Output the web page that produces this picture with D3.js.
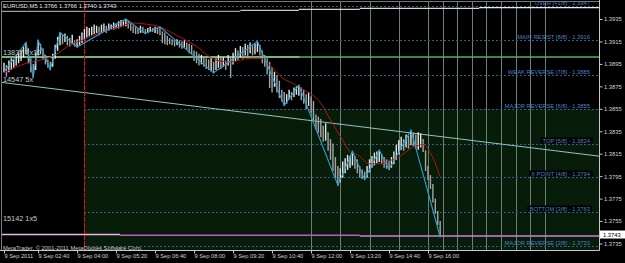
<!DOCTYPE html>
<html>
<head>
<meta charset="utf-8">
<script src="https://cdn.jsdelivr.net/npm/d3@7"></script>
<style>
body { margin: 0; background: #000; }
svg { display: block; }
text { font-family: "Liberation Sans", Arial, sans-serif; }
</style>
</head>
<body>
<div id="chart"></div>
<script>
// EURUSD M5 bars, first bar 9 Sep 2011 01:30
var barHigh = [
    1.3896, 1.3894, 1.3898, 1.3900, 1.3899, 1.3903, 1.3905, 1.3907, 1.3910, 1.3914,
    1.3909, 1.3900, 1.3895, 1.3905, 1.3916, 1.3913, 1.3909, 1.3903, 1.3899, 1.3897,
    1.3904, 1.3912, 1.3919, 1.3923, 1.3921, 1.3922, 1.3920, 1.3918, 1.3921, 1.3916,
    1.3917, 1.3920, 1.3923, 1.3926, 1.3928, 1.3927, 1.3928, 1.3930, 1.3929, 1.3928,
    1.3930, 1.3931, 1.3929, 1.3931, 1.3930, 1.3932, 1.3931, 1.3933, 1.3934, 1.3933,
    1.3935, 1.3933, 1.3931, 1.3929, 1.3928, 1.3927, 1.3929, 1.3928, 1.3926, 1.3927,
    1.3928, 1.3927, 1.3928, 1.3927, 1.3928, 1.3924, 1.3923, 1.3920, 1.3918, 1.3917,
    1.3916, 1.3917, 1.3916, 1.3915, 1.3916, 1.3914, 1.3913, 1.3912, 1.3907, 1.3906,
    1.3904, 1.3903, 1.3901, 1.3900, 1.3899, 1.3901, 1.3897, 1.3900, 1.3903, 1.3902,
    1.3901, 1.3898, 1.3903, 1.3902, 1.3905, 1.3909, 1.3907, 1.3911, 1.3910, 1.3913,
    1.3912, 1.3914, 1.3911, 1.3913, 1.3915, 1.3912, 1.3907, 1.3903, 1.3900, 1.3897,
    1.3892, 1.3888, 1.3885, 1.3880, 1.3872, 1.3870, 1.3868, 1.3872, 1.3870, 1.3874,
    1.3875, 1.3876, 1.3874, 1.3872, 1.3868, 1.3870, 1.3866, 1.3862, 1.3850, 1.3848,
    1.3846, 1.3840, 1.3842, 1.3834, 1.3828, 1.3824, 1.3812, 1.3804, 1.3802, 1.3808,
    1.3811, 1.3814, 1.3813, 1.3817, 1.3813, 1.3810, 1.3804, 1.3801, 1.3799, 1.3804,
    1.3810, 1.3813, 1.3816, 1.3817, 1.3818, 1.3815, 1.3812, 1.3810, 1.3809, 1.3812,
    1.3817, 1.3823, 1.3827, 1.3830, 1.3828, 1.3832, 1.3831, 1.3836, 1.3834, 1.3832,
    1.3834, 1.3833, 1.3828, 1.3818, 1.3804, 1.3796, 1.3788, 1.3775, 1.3764, 1.3755
];
var barLow = [
    1.3888, 1.3884, 1.3888, 1.3890, 1.3892, 1.3894, 1.3896, 1.3898, 1.3901, 1.3904,
    1.3896, 1.3888, 1.3883, 1.3890, 1.3903, 1.3904, 1.3899, 1.3895, 1.3892, 1.3890,
    1.3893, 1.3900, 1.3907, 1.3912, 1.3913, 1.3915, 1.3912, 1.3911, 1.3913, 1.3911,
    1.3910, 1.3912, 1.3914, 1.3917, 1.3919, 1.3920, 1.3921, 1.3922, 1.3923, 1.3921,
    1.3923, 1.3924, 1.3923, 1.3925, 1.3926, 1.3926, 1.3927, 1.3927, 1.3928, 1.3929,
    1.3929, 1.3927, 1.3925, 1.3923, 1.3922, 1.3922, 1.3923, 1.3923, 1.3922, 1.3923,
    1.3924, 1.3924, 1.3923, 1.3922, 1.3921, 1.3914, 1.3913, 1.3912, 1.3913, 1.3912,
    1.3911, 1.3912, 1.3910, 1.3909, 1.3910, 1.3908, 1.3905, 1.3904, 1.3898, 1.3896,
    1.3894, 1.3895, 1.3893, 1.3891, 1.3890, 1.3889, 1.3887, 1.3890, 1.3892, 1.3891,
    1.3893, 1.3890, 1.3894, 1.3883, 1.3895, 1.3898, 1.3899, 1.3901, 1.3900, 1.3903,
    1.3902, 1.3905, 1.3903, 1.3904, 1.3906, 1.3903, 1.3896, 1.3893, 1.3886, 1.3874,
    1.3870, 1.3875, 1.3870, 1.3865, 1.3862, 1.3858, 1.3860, 1.3864, 1.3863, 1.3866,
    1.3868, 1.3867, 1.3863, 1.3860, 1.3855, 1.3858, 1.3852, 1.3845, 1.3837, 1.3834,
    1.3830, 1.3826, 1.3827, 1.3818, 1.3810, 1.3800, 1.3794, 1.3787, 1.3790, 1.3794,
    1.3798, 1.3801, 1.3803, 1.3805, 1.3802, 1.3798, 1.3794, 1.3793, 1.3792, 1.3794,
    1.3799, 1.3803, 1.3805, 1.3807, 1.3808, 1.3806, 1.3803, 1.3802, 1.3801, 1.3803,
    1.3806, 1.3810, 1.3815, 1.3819, 1.3818, 1.3821, 1.3820, 1.3823, 1.3822, 1.3820,
    1.3819, 1.3821, 1.3817, 1.3800, 1.3792, 1.3784, 1.3772, 1.3762, 1.3752, 1.3741
];

// zigzag turning points (bar index, price)
var zigzagBar = [0, 9, 12, 14, 19, 23, 30, 50, 58, 64, 86, 104, 115, 121, 137, 143, 148, 154, 158, 167, 179];
var zigzagPrice = [1.3888, 1.3914, 1.3883, 1.3916, 1.3890, 1.3923, 1.3910, 1.3935, 1.3922, 1.3928, 1.3887,
    1.3915, 1.3858, 1.3876, 1.3787, 1.3817, 1.3792, 1.3818, 1.3801, 1.3836, 1.3741];

// moving average (bar index, value)
var maBar = [0, 7, 15, 19, 23, 27, 32, 39, 46, 53, 58, 64, 69, 78, 87, 93, 101, 105, 109, 114,
    120, 123, 130, 134, 139, 142, 145, 150, 154, 158, 162, 168, 172, 175, 178, 179];
var maPrice = [1.3887, 1.3894, 1.38985, 1.3901, 1.39056, 1.3912, 1.3916, 1.39225, 1.3927, 1.39314,
    1.39305, 1.3928, 1.39225, 1.3912, 1.38985, 1.38967, 1.3900, 1.3900, 1.3894, 1.3883,
    1.3876, 1.3872, 1.3860, 1.3845, 1.3827, 1.38166, 1.3814, 1.3806, 1.3806, 1.38086,
    1.3812, 1.3821, 1.3823, 1.38157, 1.38006, 1.37944];

// Murrey math levels
var levelPrices = [1.3947, 1.3916, 1.3885, 1.3855, 1.3824, 1.3794, 1.3763, 1.3733];
var levelNames = ['OVER [+1/8]', 'MAIN RESIST [8/8]', 'WEAK REVERSE [7/8]', 'MAJOR REVERSE [6/8]',
    'TOP [5/8]', 'X POINT [4/8]', 'BOTTOM [3/8]', 'MAJOR REVERSE [2/8]'];
var levelBoxed = [false, false, false, false, true, true, true, false];

var priceTicks = [1.3935, 1.3915, 1.3895, 1.3875, 1.3855, 1.3835, 1.3815, 1.3795, 1.3775, 1.3755, 1.3735];
var lastPrice = 1.3743;

var timeTicks = ['01:30', '02:40', '04:00', '05:20', '06:40', '08:00', '09:20', '10:40', '12:00', '13:20', '14:40', '16:00'];
var timeLabels = ['9 Sep 2011', '9 Sep 02:40', '9 Sep 04:00', '9 Sep 05:20', '9 Sep 06:40', '9 Sep 08:00',
    '9 Sep 09:20', '9 Sep 10:40', '9 Sep 12:00', '9 Sep 13:20', '9 Sep 14:40', '9 Sep 16:00'];

var gridTimes = ['12:00', '13:00', '14:00', '15:00', '16:00', '16:30', '17:00', '17:30', '18:00',
    '18:30', '19:00', '19:30', '20:00'];
var sessionTime = '04:15';

// trend line anchors
var trendTimes = ['01:22', '21:51'];
var trendPrices = [1.38787, 1.38128];

// horizontal step lines: [start, end, price]
var topSteps = [['01:20', '09:35', 1.39418], ['09:35', '11:35', 1.39426], ['11:35', '13:40', 1.39435],
    ['13:40', '17:45', 1.39444], ['17:45', '22:00', 1.39452]];
var greenSteps = [['01:20', '11:37', 1.39011], ['11:37', '22:00', 1.39011]];
var pinkSteps = [['01:20', '05:28', 1.37430], ['05:28', '13:40', 1.37424], ['13:40', '22:00', 1.37417]];

var infoTexts = ['13837 7x10', '14547 5x', '15142 1x5'];
var infoPrices = [1.3903, 1.3879, 1.3755];

var width = 625, height = 263;
var plot = {left: 2, top: 1, right: 599, bottom: 250};
var font = '"Liberation Sans", Arial, sans-serif';

function at(hm) {
    var p = hm.split(':');
    return new Date(2011, 8, 9, +p[0], +p[1]);
}

var xScale = d3.scaleTime()
    .domain([at('01:30'), at('16:00')])
    .range([4, 428]);

var yScale = d3.scaleLinear()
    .domain([1.3735, 1.3935])
    .range([243.5, 19]);

var barTime = barHigh.map(function (d, i) {
    return d3.timeMinute.offset(at('01:30'), i * 5);
});

var svg = d3.select('#chart').append('svg')
    .attr('width', width)
    .attr('height', height)
    .style('background', '#000');

svg.append('clipPath').attr('id', 'plot-clip')
    .append('rect')
    .attr('x', plot.left).attr('y', plot.top)
    .attr('width', plot.right - plot.left).attr('height', plot.bottom - plot.top);

var g = svg.append('g').attr('clip-path', 'url(#plot-clip)');

// green zone below major reverse 6/8, from the session line
var zoneX = Math.round(xScale(at(sessionTime)));
g.append('rect')
    .attr('x', zoneX)
    .attr('y', yScale(1.3855))
    .attr('width', plot.right - zoneX)
    .attr('height', plot.bottom - yScale(1.3855))
    .attr('fill', '#071d09');

// vertical time lines
g.selectAll('.vline')
    .data(gridTimes).enter()
    .append('line')
        .attr('x1', function (d) { return Math.round(xScale(at(d))) + 0.5; })
        .attr('x2', function (d) { return Math.round(xScale(at(d))) + 0.5; })
        .attr('y1', plot.top)
        .attr('y2', plot.bottom)
        .attr('stroke', function (d, i) { return i % 2 ? '#6f7d78' : '#5f8572'; })
        .attr('stroke-width', 1);

// level dotted lines
g.selectAll('.level')
    .data(levelPrices).enter()
    .append('line')
        .attr('x1', zoneX)
        .attr('x2', plot.right)
        .attr('y1', function (d) { return Math.round(yScale(d)) + 0.5; })
        .attr('y2', function (d) { return Math.round(yScale(d)) + 0.5; })
        .attr('stroke', '#2f5d8f')
        .attr('stroke-dasharray', '2,2');

// step lines
function drawSteps(steps, colors, w) {
    g.selectAll(null)
        .data(steps).enter()
        .append('line')
            .attr('x1', function (d) { return xScale(at(d[0])); })
            .attr('x2', function (d) { return xScale(at(d[1])); })
            .attr('y1', function (d) { return yScale(d[2]); })
            .attr('y2', function (d) { return yScale(d[2]); })
            .attr('stroke', function (d, i) { return colors[i]; })
            .attr('stroke-width', w);
}
drawSteps(topSteps, ['#9a9a9a', '#c8c8c8', '#d0d0d0', '#d8d8d8', '#e8e8e8'], 1.2);
drawSteps(greenSteps, ['#9ff09f', '#55b355'], 1.6);
drawSteps(pinkSteps, ['#eab8ea', '#c457c4', '#d47cd4'], 1.6);

// trend line
g.append('line')
    .attr('x1', xScale(at(trendTimes[0])))
    .attr('y1', yScale(trendPrices[0]))
    .attr('x2', xScale(at(trendTimes[1])))
    .attr('y2', yScale(trendPrices[1]))
    .attr('stroke', '#93c2c2')
    .attr('stroke-width', 1);

// session line
g.append('line')
    .attr('x1', zoneX + 0.5).attr('x2', zoneX + 0.5)
    .attr('y1', plot.top).attr('y2', plot.bottom)
    .attr('stroke', '#ee1111')
    .attr('stroke-dasharray', '5,1');

// price bars
g.selectAll('.bar')
    .data(barHigh).enter()
    .append('line')
        .attr('x1', function (d, i) { return xScale(barTime[i]); })
        .attr('x2', function (d, i) { return xScale(barTime[i]); })
        .attr('y1', function (d) { return yScale(d); })
        .attr('y2', function (d, i) { return yScale(barLow[i]) + 0.5; })
        .attr('stroke', function (d, i) {
            var mid = (d + barLow[i]) / 2;
            var prev = i ? (barHigh[i - 1] + barLow[i - 1]) / 2 : mid;
            return mid >= prev ? '#e4e4e4' : '#a4a4a4';
        })
        .attr('stroke-width', 1.4);

// moving average
var maLine = d3.line()
    .x(function (d, i) { return xScale(barTime[d]); })
    .y(function (d, i) { return yScale(maPrice[i]); })
    .curve(d3.curveMonotoneX);
g.append('path')
    .datum(maBar)
    .attr('fill', 'none')
    .attr('stroke', '#b51212')
    .attr('stroke-width', 1)
    .attr('d', maLine);

// zigzag
var zzLine = d3.line()
    .x(function (d) { return xScale(barTime[d]); })
    .y(function (d, i) { return yScale(zigzagPrice[i]); });
g.append('path')
    .datum(zigzagBar)
    .attr('fill', 'none')
    .attr('stroke', '#2aa2d4')
    .attr('stroke-width', 1.1)
    .attr('d', zzLine);

// level labels
levelPrices.forEach(function (p, i) {
    var y = Math.round(yScale(p)) - 1.5;
    var label = g.append('text')
        .attr('x', 590)
        .attr('y', y)
        .attr('text-anchor', 'end')
        .attr('font-size', '5.8px')
        .attr('fill', '#4c80c4')
        .text(levelNames[i] + ' - ' + p.toFixed(4));
    if (levelBoxed[i]) {
        var bb = label.node().getBBox();
        g.insert('rect', function () { return label.node(); })
            .attr('x', bb.x - 2).attr('y', bb.y)
            .attr('width', bb.width + 4).attr('height', bb.height)
            .attr('fill', '#000');
    }
});

// info texts at the left
g.selectAll('.info')
    .data(infoTexts).enter()
    .append('text')
        .attr('x', 3)
        .attr('y', function (d, i) { return yScale(infoPrices[i]); })
        .attr('font-size', '7.3px')
        .attr('fill', '#c8c8c8')
        .text(function (d) { return d; });

// header and copyright
svg.append('text')
    .attr('x', 3).attr('y', 8)
    .attr('font-size', '5.9px')
    .attr('fill', '#e8e8e8')
    .text('EURUSD,M5 1.3766 1.3766 1.3740 1.3743');

svg.append('text')
    .attr('x', 3).attr('y', 249.5)
    .attr('font-size', '5.8px')
    .attr('fill', '#c8c8c8')
    .text('MetaTrader, \u00a9 2001-2011 MetaQuotes Software Corp.');

// chart frame
svg.append('path')
    .attr('d', 'M1.5,' + plot.bottom + 'V1.5H' + (plot.right + 0.5))
    .attr('fill', 'none')
    .attr('stroke', '#7a7a7a');

// Create Y-axis
var yAxis = svg.append('g')
    .attr('transform', 'translate(' + (plot.right + 0.5) + ',0)')
    .call(d3.axisRight(yScale)
        .tickValues(priceTicks)
        .tickSize(3)
        .tickPadding(1.5)
        .tickFormat(d3.format('.4f')));
yAxis.select('.domain').attr('d', 'M0,0V' + (plot.bottom + 0.5)).attr('stroke', '#c8c8c8');
yAxis.selectAll('.tick line').attr('stroke', '#c8c8c8');
yAxis.selectAll('.tick text')
    .attr('fill', '#d0d0d0')
    .attr('font-size', '5.8px')
    .attr('font-family', font);

// current price box
var lastY = yScale(lastPrice);
svg.append('rect')
    .attr('x', plot.right + 1).attr('y', lastY - 4)
    .attr('width', width - plot.right - 1).attr('height', 8)
    .attr('fill', '#ffffff');
svg.append('text')
    .attr('x', plot.right + 4).attr('y', lastY + 2)
    .attr('font-size', '5.8px')
    .attr('fill', '#000')
    .text(lastPrice.toFixed(4));

// Create X-axis
var xAxis = svg.append('g')
    .attr('transform', 'translate(0,' + (plot.bottom + 0.5) + ')')
    .call(d3.axisBottom(xScale)
        .tickValues(timeTicks.map(at))
        .tickSize(3)
        .tickFormat(function (d, i) { return timeLabels[i]; }));
xAxis.select('.domain').attr('d', 'M0,0H' + (plot.right + 0.5)).attr('stroke', '#c8c8c8');
xAxis.selectAll('.tick line').attr('stroke', '#c8c8c8');
xAxis.selectAll('.tick text')
    .attr('text-anchor', 'start')
    .attr('x', 0)
    .attr('y', 3.5)
    .attr('fill', '#d0d0d0')
    .attr('font-size', '5.7px')
    .attr('font-family', font);
</script>
</body>
</html>
